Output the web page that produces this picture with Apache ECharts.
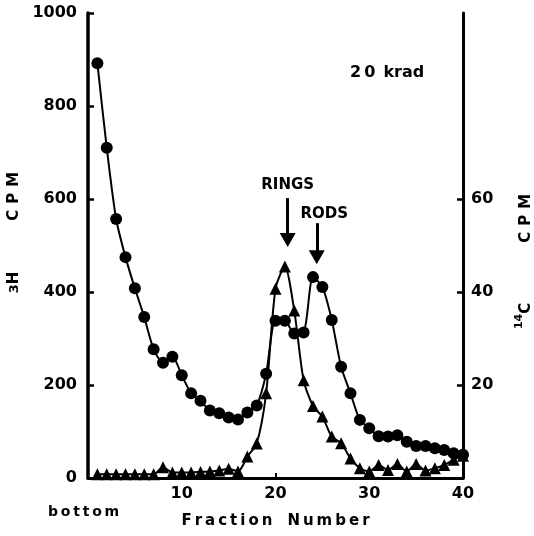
<!DOCTYPE html>
<html>
<head>
<meta charset="utf-8">
<script src="https://cdn.jsdelivr.net/npm/echarts@6/dist/echarts.min.js"></script>
<style>
html, body { margin: 0; padding: 0; background: #fff; }
#main { width: 534px; height: 536px; }
</style>
</head>
<body>
<div id="main"></div>
<script>
'use strict';
// fraction numbers (x)
var fractions = [1, 2, 3, 4, 5, 6, 7, 8, 9, 10,
	11, 12, 13, 14, 15, 16, 17, 18, 19, 20,
	21, 22, 23, 24, 25, 26, 27, 28, 29, 30,
	31, 32, 33, 34, 35, 36, 37, 38, 39, 40];
// 3H CPM (circles, left axis)
var tritium = [892, 710, 557, 475, 408, 346, 277, 248, 261, 221,
	182, 166, 145, 139, 130, 126, 141, 156, 224, 338,
	338, 311, 313, 432, 411, 340, 239, 182, 125, 107,
	90, 89, 92, 78, 69, 69, 64, 60, 53, 50];
// 14C CPM (triangles, right axis)
var carbon = [0.8, 0.8, 0.8, 0.8, 0.8, 0.8, 0.8, 2.3, 1.2, 1.2,
	1.2, 1.3, 1.4, 1.6, 2.0, 1.4, 4.6, 7.4, 18.2, 40.7,
	45.5, 36.0, 21.0, 15.5, 13.2, 8.9, 7.5, 4.2, 2.1, 1.4,
	2.8, 1.7, 3.0, 1.4, 3.0, 1.6, 2.1, 2.8, 3.9, 4.8];
var xTicks = [10, 20, 30, 40];
var rightTicks = [20, 40, 60];

var font = 'DejaVu Sans';
var ink = '#000';

var nameRich = {
	m: { color: ink, fontFamily: font, fontWeight: 'bold', fontSize: 15, lineHeight: 20, verticalAlign: 'bottom' },
	s: { color: ink, fontFamily: font, fontWeight: 'bold', fontSize: 13, lineHeight: 20, verticalAlign: 'bottom' },
	sup: { color: ink, fontFamily: font, fontWeight: 'bold', fontSize: 11, lineHeight: 20, verticalAlign: 'top' }
};

var chart = echarts.init(document.getElementById('main'));
chart.setOption({
	animation: false,
	backgroundColor: '#fff',
	grid: { left: 88, right: 71, top: 13, bottom: 58, outerBoundsMode: 'none', containLabel: false },
	xAxis: {
		type: 'value', min: 0, max: 40, interval: 10,
		name: 'F\u2009r\u2009a\u2009c\u2009t\u2009i\u2009o\u2009n\u2003N\u2009u\u2009m\u2009b\u2009e\u2009r',
		nameLocation: 'middle', nameGap: 36,
		nameTextStyle: { color: ink, fontFamily: font, fontWeight: 'bold', fontSize: 15 },
		axisLine: { lineStyle: { color: ink, width: 3 } },
		axisTick: { inside: true, length: 5, lineStyle: { color: ink, width: 2 }, customValues: xTicks },
		axisLabel: { color: ink, fontFamily: font, fontWeight: 'bold', fontSize: 16, margin: 8, customValues: xTicks },
		splitLine: { show: false }
	},
	yAxis: [{
		type: 'value', min: 0, max: 1000, interval: 200,
		name: '{s|3}{m|H\u2003\u2003\u2003\u2009\u2009C\u2009\u2009P\u2009\u2009M}',
		nameLocation: 'middle', nameRotate: 90, nameGap: 50,
		nameTextStyle: { color: ink, fontFamily: font, fontWeight: 'bold', fontSize: 15, padding: [0, 0, 0, 26], rich: nameRich },
		axisLine: { show: true, lineStyle: { color: ink, width: 3.5 } },
		axisTick: { show: true, inside: true, length: 6, lineStyle: { color: ink, width: 2.5 } },
		axisLabel: {
			color: ink, fontFamily: font, fontWeight: 'bold', fontSize: 16, margin: 11,
			formatter: function (v) { return String(v); }
		},
		splitLine: { show: false }
	}, {
		type: 'value', min: 0, max: 100, interval: 20,
		position: 'right',
		name: '{sup|14}{m|C\u2003\u2003\u2003\u2003C\u2009\u2009P\u2009\u2009M}',
		nameLocation: 'middle', nameRotate: 90, nameGap: 51,
		nameTextStyle: { color: ink, fontFamily: font, fontWeight: 'bold', fontSize: 15, padding: [0, 32, 0, 0], rich: nameRich },
		axisLine: { show: true, lineStyle: { color: ink, width: 3 } },
		axisTick: { show: true, inside: true, length: 6, lineStyle: { color: ink, width: 2.5 }, customValues: rightTicks },
		axisLabel: { color: ink, fontFamily: font, fontWeight: 'bold', fontSize: 16, margin: 8, customValues: rightTicks },
		splitLine: { show: false }
	}],
	graphic: [{
		type: 'text', left: 350, top: 65,
		style: { text: '2\u20090\u2002krad', fill: ink, font: 'bold 16px "DejaVu Sans"' }
	}, {
		type: 'text', left: 48, top: 505,
		style: { text: 'b\u2009o\u2009t\u2009t\u2009o\u2009m', fill: ink, font: 'bold 14px "DejaVu Sans"' }
	}],
	series: [{
		name: '3H',
		type: 'line',
		yAxisIndex: 0,
		data: fractions.map(function (f, i) { return [f, tritium[i]]; }),
		smooth: 0.25,
		symbol: 'circle', symbolSize: 12,
		itemStyle: { color: ink },
		lineStyle: { color: ink, width: 2 },
		z: 3,
		markLine: {
			silent: true,
			symbol: ['none', 'triangle'], symbolSize: [16, 14],
			lineStyle: { color: ink, width: 3, type: 'solid' },
			label: { show: false },
			data: [
				[{ coord: [21.3, 602] }, { coord: [21.3, 512] }],
				[{ coord: [24.4, 548] }, { coord: [24.4, 475] }]
			]
		},
		markPoint: {
			silent: true,
			symbol: 'circle', symbolSize: 0,
			label: { show: true, color: ink, fontFamily: font, fontWeight: 'bold', fontSize: 15, position: 'inside' },
			data: [
				{ coord: [21.3, 630], value: 'RINGS', label: { formatter: 'RINGS' } },
				{ coord: [25.2, 568], value: 'RODS', label: { formatter: 'RODS' } }
			]
		}
	}, {
		name: '14C',
		type: 'line',
		yAxisIndex: 1,
		data: fractions.map(function (f, i) { return [f, carbon[i]]; }),
		smooth: 0.25,
		symbol: 'triangle', symbolSize: 12,
		itemStyle: { color: ink },
		lineStyle: { color: ink, width: 2 },
		z: 2
	}]
});
</script>
</body>
</html>
